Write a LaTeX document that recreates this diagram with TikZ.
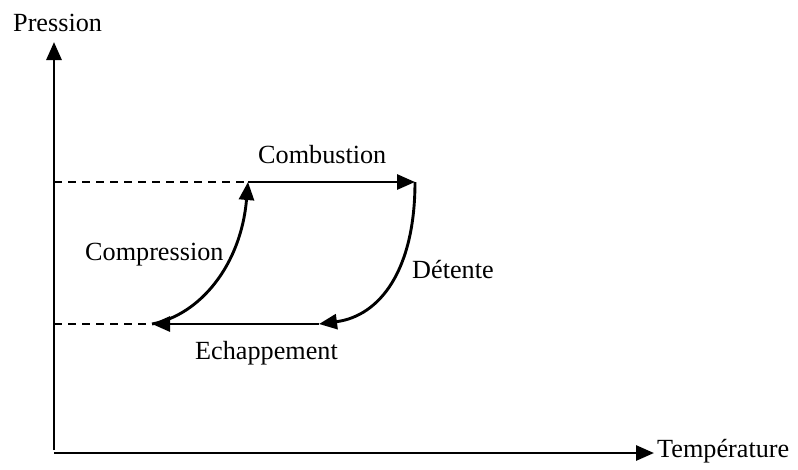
\documentclass[tikz,border=0pt]{standalone}
\usepackage{fontspec}
\setmainfont{Liberation Serif}
\usetikzlibrary{arrows.meta}
\begin{document}
\begin{tikzpicture}[x=1pt,y=-1pt,
  lbl/.style={font=\fontsize{26.2}{30}\selectfont, inner sep=0pt},
  axis/.style={line width=2.9pt, -{Triangle[length=18pt,width=15pt]}},
  path/.style={line width=2.9pt, -{Triangle[length=18pt,width=15pt]}},
  guide/.style={line width=1.9pt, dash pattern=on 8pt off 6pt}]
\useasboundingbox (0,0) rectangle (798,469);
\coordinate (O) at (54,450);
\coordinate (Ytop) at (54,42);
\coordinate (Xo) at (54,453);
\coordinate (Xend) at (654,453);
\coordinate (A) at (248,182);
\coordinate (B) at (415,182);
\coordinate (C) at (319,324);
\coordinate (D) at (152,324);
\coordinate (Ya) at (54,182);
\coordinate (Yd) at (54,324);
\draw[axis] (O) -- (Ytop);
\draw[axis] (Xo) -- (Xend);
\draw[guide] (Ya) -- (A);
\draw[guide] (Yd) -- (D);
\draw[path] (A) -- (B);
\draw[path] (B) .. controls (415,270) and (380,316) .. (C);
\draw[path] (C) -- (D);
\draw[path] (D) .. controls (200,315) and (241,265) .. (A);
\node[lbl, anchor=base west] (p) at (13,31) {Pression};
\node[lbl, anchor=base west] (t) at (657,457) {Température};
\node[lbl, anchor=base west] (cb) at (258,163) {Combustion};
\node[lbl, anchor=base west] (cp) at (85,260) {Compression};
\node[lbl, anchor=base west] (dt) at (412,278) {Détente};
\node[lbl, anchor=base west] (ec) at (195,359) {Echappement};
\end{tikzpicture}
\end{document}
